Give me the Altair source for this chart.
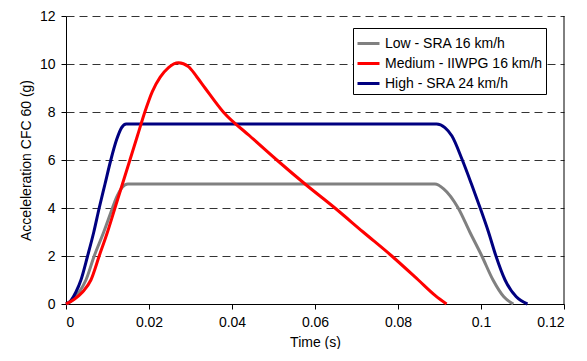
import altair as alt
import pandas as pd

series_names = ["Low - SRA 16 km/h", "Medium - IIWPG 16 km/h", "High - SRA 24 km/h"]
series_colors = ["#808080", "#FF0000", "#000080"]

low_t = [0, 0.0015, 0.0032, 0.0048, 0.0068, 0.0091, 0.0112, 0.0122, 0.0135, 0.0149, 0.02, 0.04, 0.06, 0.08,
         0.0889, 0.091, 0.0945, 0.0973, 0.1002, 0.1029, 0.1055, 0.1078]
low_g = [0, 0.15, 0.5, 1, 2, 3, 4, 4.45, 4.85, 5.0, 5, 5, 5, 5,
         5.0, 4.8, 4, 3, 2, 1, 0.3, 0]

med_t = [0, 0.002, 0.004, 0.006, 0.008, 0.01, 0.0118, 0.0136, 0.0154, 0.0172, 0.019, 0.0208, 0.0227, 0.0247,
         0.0271, 0.0295, 0.0315, 0.0335, 0.0379, 0.0443, 0.0508, 0.0576, 0.0648, 0.0716,
         0.0785, 0.0849, 0.089, 0.0917]
med_g = [0, 0.2, 0.5, 1, 2, 3, 4, 5, 6, 7, 8, 8.85, 9.45, 9.85,
         10.05, 9.89, 9.47, 9.0, 8, 7, 6, 5, 4, 3,
         2, 1, 0.35, 0]

high_t = [0, 0.0012, 0.0024, 0.0036, 0.0052, 0.0067, 0.008, 0.0094, 0.0108, 0.0122, 0.0134, 0.0145, 0.02, 0.04,
          0.06, 0.08, 0.0893, 0.0913, 0.093, 0.0955, 0.0977, 0.0998, 0.1018, 0.1036, 0.1058, 0.1085, 0.1112]
high_g = [0, 0.15, 0.5, 1, 2, 3, 4, 5, 6, 6.85, 7.35, 7.5, 7.5, 7.5,
          7.5, 7.5, 7.5, 7.35, 7, 6, 5, 4, 3, 2, 1, 0.3, 0]

rows = []
for name, ts, gs in [(series_names[0], low_t, low_g), (series_names[2], high_t, high_g),
                     (series_names[1], med_t, med_g)]:
    for t, g in zip(ts, gs):
        rows.append({"series": name, "t": t, "g": g})
df = pd.DataFrame(rows)

FONT = "Liberation Sans"

x_enc = alt.X("t:Q", title="Time (s)",
              scale=alt.Scale(domain=[0, 0.12], nice=False),
              axis=alt.Axis(values=[0, 0.02, 0.04, 0.06, 0.08, 0.1, 0.12], grid=False,
                            labelExpr="format(datum.value, '~g')",
                            tickSize=5, labelPadding=6, titlePadding=6))
y_enc = alt.Y("g:Q", title="Acceleleration CFC 60 (g)",
              scale=alt.Scale(domain=[0, 12], nice=False),
              axis=alt.Axis(values=[0, 2, 4, 6, 8, 10, 12], grid=True, gridDash=[8, 5],
                            gridColor="#333333", gridWidth=1,
                            tickSize=5, labelPadding=6, titlePadding=6))

lines = alt.Chart(df).mark_line(strokeWidth=3, interpolate="monotone").encode(
    x=x_enc,
    y=y_enc,
    color=alt.Color("series:N", sort=series_names,
                    scale=alt.Scale(domain=series_names, range=series_colors),
                    legend=alt.Legend(title=None, orient="none", legendX=287, legendY=12,
                                      symbolType="stroke", symbolSize=484, symbolStrokeWidth=3,
                                      labelFontSize=14, labelFont=FONT, labelColor="black",
                                      labelLimit=300, rowPadding=0, padding=3,
                                      strokeColor="black", fillColor="white")),
    detail="series:N",
)

border = alt.Chart(pd.DataFrame({"t": [0.12]})).mark_rule(color="black", strokeWidth=1).encode(
    x=alt.X("t:Q")
)

chart = alt.layer(lines, border).properties(
    width=498, height=288,
    background="white",
    padding={"left": 58, "top": 8, "right": 15, "bottom": 45},
    autosize=alt.AutoSizeParams(type="none"),
).configure_view(stroke=None).configure_axis(
    domainColor="black", tickColor="black", labelColor="black", titleColor="black",
    labelFont=FONT, titleFont=FONT, labelFontSize=14, titleFontSize=14, titleFontWeight="normal",
)

chart.save("out.html", embed_options={"renderer": "svg", "actions": False})
